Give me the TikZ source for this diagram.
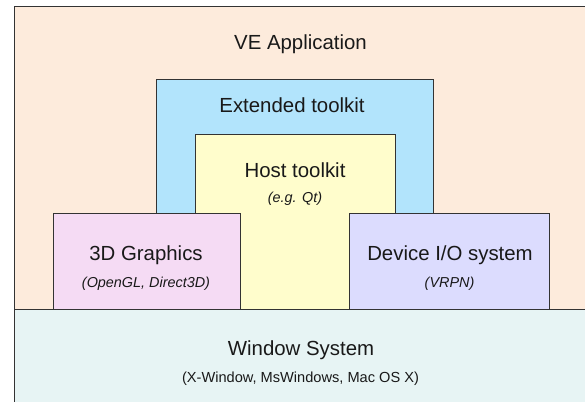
\documentclass[tikz,border=0pt]{standalone}
\usepackage{fontspec}
\setmainfont{Liberation Sans}
\definecolor{vecol}{HTML}{FDEBDC}
\definecolor{extcol}{HTML}{B2E4FC}
\definecolor{hostcol}{HTML}{FFFDCC}
\definecolor{gfxcol}{HTML}{F5DBF4}
\definecolor{devcol}{HTML}{DCDCFE}
\definecolor{wincol}{HTML}{E7F4F4}
\definecolor{edgecol}{HTML}{333333}
\tikzset{
  layer/.style={draw=edgecol, line width=1.1pt, rectangle, inner sep=0pt, anchor=north west},
  bigtext/.style={anchor=base, inner sep=0pt, font=\fontsize{20.4}{24}\selectfont, text=black!90},
  smalltext/.style={anchor=base, inner sep=0pt, font=\fontsize{14.4}{17}\selectfont\itshape, text=black!90},
  smallup/.style={anchor=base, inner sep=0pt, font=\fontsize{14.6}{17}\selectfont, text=black!90}
}
\begin{document}
\begin{tikzpicture}[x=1pt,y=-1pt]
\useasboundingbox (0,0) rectangle (585,401);
\clip (0,0) rectangle (585,401);
\fill[white] (0,0) rectangle (585,401);
% layers
\node[layer, fill=vecol, minimum width=573pt, minimum height=420pt] (ve) at (14,6) {};
\node[layer, fill=extcol, minimum width=277pt, minimum height=235pt] (ext) at (156,79) {};
\node[layer, fill=hostcol, minimum width=200pt, minimum height=180pt] (host) at (195,134) {};
\node[layer, fill=gfxcol, minimum width=187pt, minimum height=96pt] (gfx) at (53,213) {};
\node[layer, fill=devcol, minimum width=200pt, minimum height=96pt] (dev) at (349,213) {};
\node[layer, fill=wincol, minimum width=573pt, minimum height=120pt] (win) at (14,309) {};
% labels
\node[bigtext] (tve) at (300.5,50) {VE Application};
\node[bigtext] (text) at (292,112) {Extended toolkit};
\node[bigtext] (thost) at (295,177) {Host toolkit};
\node[smalltext] (shost) at (295,202) {(e.g. Qt)};
\node[bigtext] (tgfx) at (146,260) {3D Graphics};
\node[smalltext] (sgfx) at (146,287) {(OpenGL, Direct3D)};
\node[bigtext] (tdev) at (450,260) {Device I/O system};
\node[smalltext] (sdev) at (449.5,287) {(VRPN)};
\node[bigtext] (twin) at (301,355) {Window System};
\node[smallup] (swin) at (300.5,382) {(X-Window, MsWindows, Mac OS X)};
\end{tikzpicture}
\end{document}
